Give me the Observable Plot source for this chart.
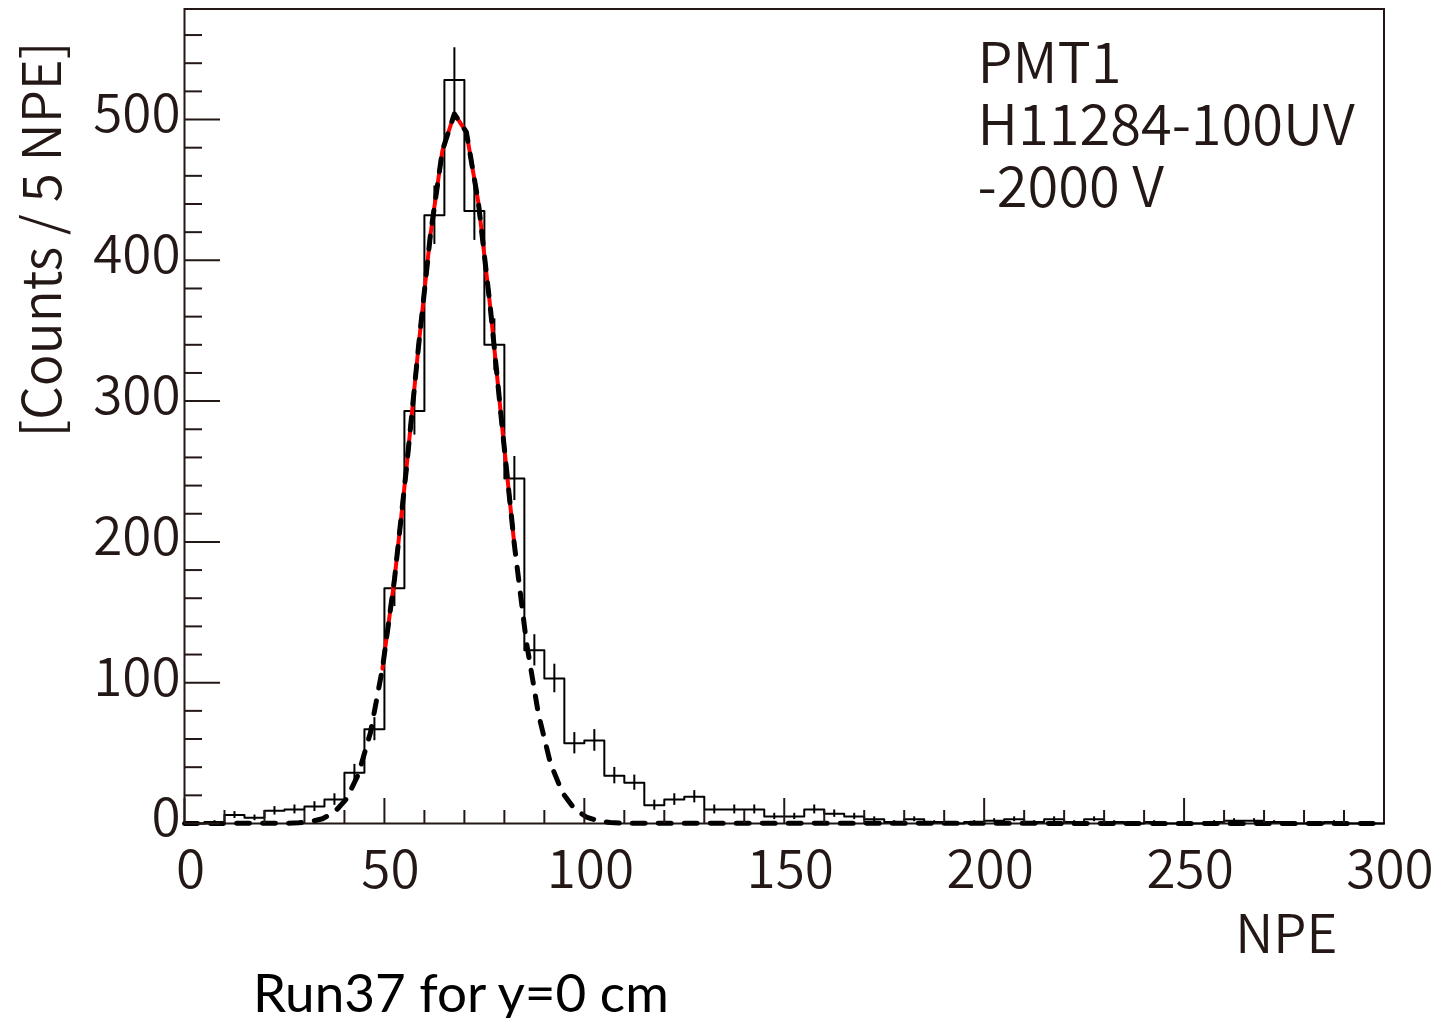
<!DOCTYPE html>
<html><head><meta charset="utf-8">
<script src="https://cdn.jsdelivr.net/npm/d3@7"></script>
<script src="https://cdn.jsdelivr.net/npm/@observablehq/plot@0.6"></script>
<style>
html,body{margin:0;padding:0;background:#fff;}
#chart svg{display:block;}
#caption{font-family:Lato,sans-serif;font-size:53px;line-height:53px;margin-left:253px;color:#000;white-space:nowrap;}
</style></head><body>
<div id="chart"></div>
<div id="caption"></div>
<script>
// ---- data ----
const binWidth = 5;
const binLow = [0,5,10,15,20,25,30,35,40,45,50,55,60,65,70,75,80,85,90,95,100,105,110,115,120,125,130,135,140,145,150,155,160,165,170,175,180,185,190,195,200,205,210,215,220,225,230,235,240,245,250,255,260,265,270,275,280,285,290,295];
const counts = [0,1,6,4,9,10,12,17,36,67,167,293,432,528,435,340,245,123,103,57,59,34,29,13,17,19,10,10,10,5,5,10,7,5,3,1,3,1,0,1,2,3,1,3,1,3,1,0,1,0,0,1,2,2,1,0,0,1,0,0];

const fitNPE    = [0, 25.5, 28.5, 31.5, 34.5, 37.5, 40.5, 43.5, 46.5, 49.5, 52.5, 55.5, 58.5, 61.5, 64.5, 67.5, 70.5, 73.5, 76.5, 79.5, 82.5, 85.5, 88.5, 91.5, 94.5, 97.5, 100.5, 103.5, 106.5, 109.5, 300];
const fitCounts = [0, 0.2, 0.5, 1.3, 3.4, 8.0, 17.4, 35.0, 64.5, 110, 173, 252, 338, 418, 478, 504, 491, 441, 366, 280, 198, 129, 78, 43, 22, 10.5, 4.6, 1.9, 0.7, 0.2, 0];
const fitRange = [49, 83];

const xMajor = [0,50,100,150,200,250,300];
const xMinor = [10,20,30,40,60,70,80,90,110,120,130,140,160,170,180,190,210,220,230,240,260,270,280,290];
const yMajor = [0,100,200,300,400,500];
const yMinor = [20,40,60,80,120,140,160,180,220,240,260,280,320,340,360,380,420,440,460,480,520,540,560];
const xDomain = [0, 300];
const yDomain = [0, 578.5];

const infoLines = ["PMT1", "H11284-100UV", "-2000 V"];
const xTitle = "NPE";
const yTitle = "[Counts / 5 NPE]";
const caption = "Run37 for y=0 cm";

// ---- derived tables ----
const bins = binLow.map((lo, i) => ({lo, count: counts[i]}));
const histPts = bins.map(d => ({x: d.lo, y: d.count}))
  .concat([{x: binLow[binLow.length - 1] + binWidth, y: counts[counts.length - 1]}]);
const fitPts = fitNPE.map((x, i) => ({x, y: fitCounts[i]}));
const redPts = fitPts.filter(d => d.x >= fitRange[0] && d.x <= fitRange[1]);

const ink = "#231815";
const FS = 53;
const FS_INFO = 56;
const FW = 350;

const chart = Plot.plot({
  width: 1435,
  height: 965,
  marginLeft: 184,
  marginRight: 51.5,
  marginTop: 8.5,
  marginBottom: 142,
  style: {background: "white", color: ink, fontFamily: "'Noto Sans CJK JP', 'Noto Sans', sans-serif", fontSize: FS + "px", overflow: "visible"},
  x: {domain: xDomain},
  y: {domain: yDomain},
  marks: [
    Plot.frame({stroke: ink, strokeWidth: 2}),
    Plot.line(histPts, {x: "x", y: "y", curve: "step-after", stroke: "#000", strokeWidth: 2}),
    Plot.ruleX(bins.filter(d => d.count > 0), {
      x: d => d.lo + binWidth / 2,
      y1: d => d.count - Math.sqrt(d.count),
      y2: d => d.count + Math.sqrt(d.count),
      stroke: "#000", strokeWidth: 2
    }),
    Plot.line(redPts, {x: "x", y: "y", stroke: "#ff0000", strokeWidth: 4}),
    Plot.line(fitPts, {x: "x", y: "y", stroke: "#000", strokeWidth: 5, strokeDasharray: "13,13"}),
    // axes: inward ticks
    Plot.axisY(yMinor, {anchor: "left", tickSize: -18, fill: "none", label: null, strokeWidth: 2}),
    Plot.axisY(yMajor, {anchor: "left", tickSize: -36, fill: "none", label: null, strokeWidth: 2}),
    Plot.axisY(yMajor, {anchor: "left", tickSize: 0, tickPadding: 4, dy: -4, fontSize: FS, fontWeight: FW, label: null, fill: ink}),
    Plot.axisX(xMinor, {anchor: "bottom", tickSize: -13, fill: "none", label: null, strokeWidth: 2}),
    Plot.axisX(xMajor, {anchor: "bottom", tickSize: -25, fill: "none", label: null, strokeWidth: 2}),
    Plot.axisX(xMajor, {anchor: "bottom", tickSize: 0, tickPadding: 27, dx: 6, fontSize: FS, fontWeight: FW, label: null, fill: ink}),
    // titles
    Plot.text([xTitle], {text: d => d, frameAnchor: "bottom-right", dx: -46.5, dy: 112.5, textAnchor: "end", lineAnchor: "middle", fontSize: FS, fontWeight: FW, fill: ink}),
    Plot.text([yTitle], {text: d => d, frameAnchor: "left", rotate: -90, dx: -140, dy: -176.75, textAnchor: "middle", lineAnchor: "middle", fontSize: FS, fontWeight: FW, fill: ink}),
    Plot.text([infoLines.join("\n")], {text: d => d, frameAnchor: "top-left", dx: 793, dy: 30.4, textAnchor: "start", lineAnchor: "top", lineHeight: 1.107, fontSize: FS_INFO, fontWeight: FW, fill: ink})
  ]
});
document.getElementById("chart").appendChild(chart);
document.getElementById("caption").textContent = caption;
</script></body></html>
